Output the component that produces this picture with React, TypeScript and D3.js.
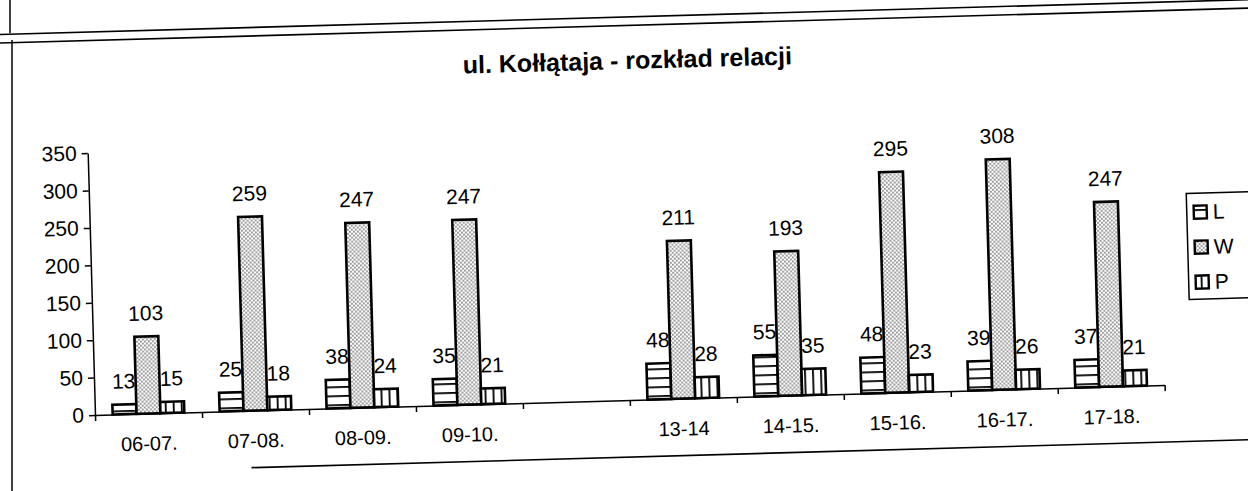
import { useRef, useEffect } from 'react';
import * as d3 from 'd3';

const TITLE = 'ul. Kołłątaja - rozkład relacji';

// one empty slot between 09-10. and 13-14 (no data there)
const CATEGORIES = ['06-07.', '07-08.', '08-09.', '09-10.', '', '13-14', '14-15.', '15-16.', '16-17.', '17-18.'];
const SERIES = ['L', 'W', 'P'];

const L_VALUES = [13, 25, 38, 35, null, 48, 55, 48, 39, 37];
const W_VALUES = [103, 259, 247, 247, null, 211, 193, 295, 308, 247];
const P_VALUES = [15, 18, 24, 21, null, 28, 35, 23, 26, 21];

const Y_TICKS = [0, 50, 100, 150, 200, 250, 300, 350];

const WIDTH = 1248;
const HEIGHT = 491;
const FONT = '"Liberation Sans", Arial, sans-serif';
const TILT = -1.6; // the scan is a little skewed

export default function App() {
  const svgRef = useRef<SVGSVGElement>(null);

  useEffect(() => {
    if (!svgRef.current) return;
    const svg = d3.select(svgRef.current);
    svg.selectAll('*').remove();

    const defs = svg.append('defs');

    // L: horizontal lines
    const pL = defs
      .append('pattern')
      .attr('id', 'pat-L')
      .attr('patternUnits', 'userSpaceOnUse')
      .attr('width', 8)
      .attr('height', 9);
    pL.append('rect').attr('width', 8).attr('height', 9).attr('fill', '#fff');
    pL.append('rect').attr('y', 6).attr('width', 8).attr('height', 1.8).attr('fill', '#000');

    // W: fine dots
    const pW = defs
      .append('pattern')
      .attr('id', 'pat-W')
      .attr('patternUnits', 'userSpaceOnUse')
      .attr('width', 4)
      .attr('height', 4);
    pW.append('rect').attr('width', 4).attr('height', 4).attr('fill', '#fff');
    pW.append('rect').attr('x', 0.3).attr('y', 0.3).attr('width', 1.3).attr('height', 1.3).attr('fill', '#222');
    pW.append('rect').attr('x', 2.3).attr('y', 2.3).attr('width', 1.3).attr('height', 1.3).attr('fill', '#222');

    // P: vertical lines
    const pP = defs
      .append('pattern')
      .attr('id', 'pat-P')
      .attr('patternUnits', 'userSpaceOnUse')
      .attr('width', 8)
      .attr('height', 8);
    pP.append('rect').attr('width', 8).attr('height', 8).attr('fill', '#fff');
    pP.append('rect').attr('x', 5).attr('width', 1.8).attr('height', 8).attr('fill', '#000');

    const fills: Record<string, string> = {
      L: 'url(#pat-L)',
      W: 'url(#pat-W)',
      P: 'url(#pat-P)',
    };

    const origin = { x: 95, y: 415 };
    const plotW = 1070;
    const plotH = 262;

    svg.append('rect').attr('width', WIDTH).attr('height', HEIGHT).attr('fill', '#fff');

    // page frame left edges (not skewed)
    svg.append('line').attr('x1', 10).attr('x2', 10).attr('y1', 0).attr('y2', 33)
      .attr('stroke', '#000').attr('stroke-width', 1.5);
    svg.append('line').attr('x1', 12).attr('x2', 12).attr('y1', 40).attr('y2', HEIGHT)
      .attr('stroke', '#000').attr('stroke-width', 1.5);

    const root = svg
      .append('g')
      .attr('transform', `rotate(${TILT},${origin.x},${origin.y})`);

    // frame lines
    const frameLines = [
      { x1: 8, x2: 1300, y: 32 },
      { x1: 10, x2: 1300, y: 40.5 },
      { x1: 250, x2: 1300, y: 472 },
    ];
    root
      .selectAll('line.frame')
      .data(frameLines)
      .join('line')
      .attr('class', 'frame')
      .attr('x1', (d) => d.x1)
      .attr('x2', (d) => d.x2)
      .attr('y1', (d) => d.y)
      .attr('y2', (d) => d.y)
      .attr('stroke', '#000')
      .attr('stroke-width', 1.6);

    // title
    root
      .append('text')
      .attr('x', 637)
      .attr('y', 84)
      .attr('text-anchor', 'middle')
      .attr('font-family', FONT)
      .attr('font-weight', 'bold')
      .attr('font-size', '25px')
      .text(TITLE);

    const g = root.append('g');

    const x = d3
      .scaleBand<number>()
      .domain(d3.range(CATEGORIES.length))
      .range([origin.x, origin.x + plotW])
      .paddingInner(0.33)
      .paddingOuter(0.165);

    const xs = d3
      .scaleBand<string>()
      .domain(SERIES)
      .range([0, x.bandwidth()]);

    const xLin = d3
      .scaleLinear()
      .domain([0, CATEGORIES.length])
      .range([origin.x, origin.x + plotW]);

    const y = d3
      .scaleLinear()
      .domain([0, 350])
      .range([origin.y, origin.y - plotH]);

    // y axis
    const yAxis = g
      .append('g')
      .attr('transform', `translate(${origin.x},0)`)
      .call(d3.axisLeft(y).tickValues(Y_TICKS).tickSize(6).tickSizeOuter(0).tickPadding(5));
    yAxis.selectAll('text').attr('font-family', FONT).attr('font-size', '21px').attr('fill', '#000');
    yAxis.selectAll('.domain, .tick line').attr('stroke', '#000').attr('stroke-width', 1.5);

    // x axis: ticks on category boundaries
    const xAxis = g
      .append('g')
      .attr('transform', `translate(0,${origin.y})`)
      .call(
        d3
          .axisBottom(xLin)
          .tickValues(d3.range(CATEGORIES.length + 1))
          .tickFormat(() => '')
          .tickSize(6)
          .tickSizeOuter(0)
      );
    xAxis.selectAll('.domain, .tick line').attr('stroke', '#000').attr('stroke-width', 1.5);

    g.selectAll('text.xlabel')
      .data(CATEGORIES)
      .join('text')
      .attr('class', 'xlabel')
      .attr('x', (_, i) => x(i)! + x.bandwidth() / 2)
      .attr('y', origin.y + 37)
      .attr('text-anchor', 'middle')
      .attr('font-family', FONT)
      .attr('font-size', '20px')
      .text((d) => d);

    // bars
    const rows = CATEGORIES.map((c, i) => ({
      i,
      L: L_VALUES[i],
      W: W_VALUES[i],
      P: P_VALUES[i],
    }));

    const bars = rows.flatMap((r) =>
      SERIES.map((s) => ({ i: r.i, key: s, value: (r as any)[s] as number | null }))
    ).filter((d) => d.value != null) as { i: number; key: string; value: number }[];

    g.selectAll('rect.bar')
      .data(bars)
      .join('rect')
      .attr('class', 'bar')
      .attr('x', (d) => x(d.i)! + xs(d.key)!)
      .attr('y', (d) => y(d.value))
      .attr('width', xs.bandwidth())
      .attr('height', (d) => y(0) - y(d.value))
      .attr('fill', (d) => fills[d.key])
      .attr('stroke', '#000')
      .attr('stroke-width', 2.6);

    g.selectAll('text.value')
      .data(bars)
      .join('text')
      .attr('class', 'value')
      .attr('x', (d) => x(d.i)! + xs(d.key)! + xs.bandwidth() / 2)
      .attr('y', (d) => y(d.value) - 16)
      .attr('text-anchor', 'middle')
      .attr('font-family', FONT)
      .attr('font-size', '21px')
      .text((d) => d.value);

    // legend
    const legend = root.append('g').attr('transform', 'translate(1192,224)');
    legend
      .append('rect')
      .attr('width', 64)
      .attr('height', 106)
      .attr('fill', '#fff')
      .attr('stroke', '#000')
      .attr('stroke-width', 1.5);

    SERIES.forEach((s, i) => {
      const row = legend.append('g').attr('transform', `translate(7, ${19 + i * 35})`);
      row
        .append('rect')
        .attr('y', -6.5)
        .attr('width', 13)
        .attr('height', 13)
        .attr('fill', fills[s])
        .attr('stroke', '#000')
        .attr('stroke-width', 2.4);
      row
        .append('text')
        .attr('x', 19)
        .attr('y', 7)
        .attr('font-family', FONT)
        .attr('font-size', '21px')
        .text(s);
    });
  }, []);

  return (
    <svg
      ref={svgRef}
      width={WIDTH}
      height={HEIGHT}
      style={{ position: 'absolute', left: 0, top: 0 }}
    />
  );
}
